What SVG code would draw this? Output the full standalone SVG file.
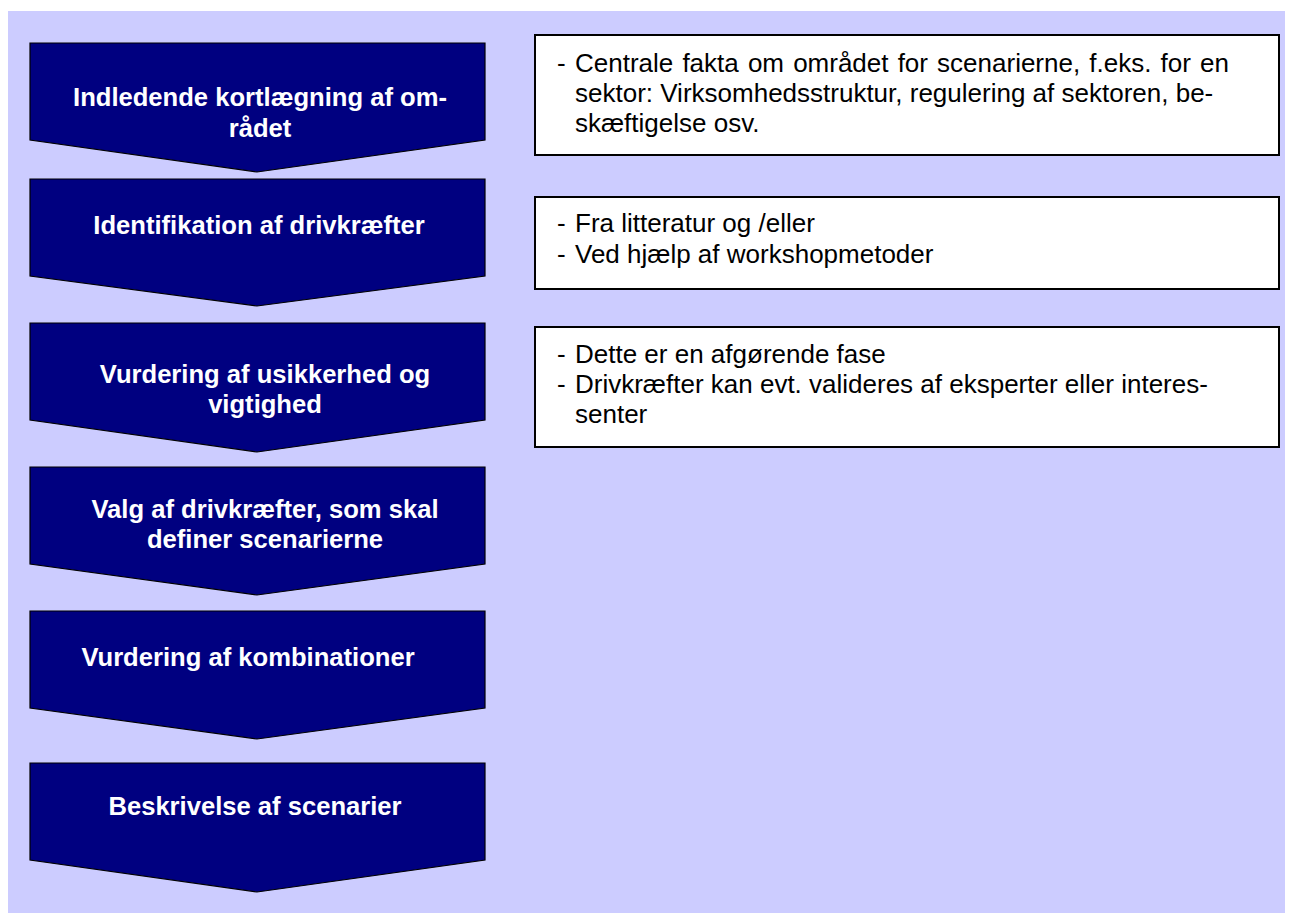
<svg xmlns="http://www.w3.org/2000/svg" width="1295" height="915" viewBox="0 0 1295 915">
<style>
.bg{fill:#CCCCFF;}
.arrow{fill:#000080;stroke:#000000;stroke-width:1.2;}
.atext{font-family:"Liberation Sans",Arial,sans-serif;font-weight:bold;font-size:25.6px;fill:#FFFFFF;text-anchor:middle;}
.box{fill:#FFFFFF;stroke:#000000;stroke-width:2;}
.btext{font-family:"Liberation Sans",Arial,sans-serif;font-size:26px;fill:#000000;}
</style>
<rect class="bg" x="8" y="11" width="1277" height="902"/>
<g id="connectors"></g>
<g id="step1">
<polygon class="arrow" points="30,43 485,43 485,140 257,172 30,140"/>
<text class="atext" x="260" y="106">Indledende kortlægning af om-</text>
<text class="atext" x="260" y="137">rådet</text>
</g>
<g id="step2">
<polygon class="arrow" points="30,179 485,179 485,276 257,306 30,276"/>
<text class="atext" x="259" y="234">Identifikation af drivkræfter</text>
</g>
<g id="step3">
<polygon class="arrow" points="30,323 485,323 485,420 257,452 30,420"/>
<text class="atext" x="265" y="383">Vurdering af usikkerhed og</text>
<text class="atext" x="265" y="413">vigtighed</text>
</g>
<g id="step4">
<polygon class="arrow" points="30,467 485,467 485,564 257,595 30,564"/>
<text class="atext" x="265" y="518">Valg af drivkræfter, som skal</text>
<text class="atext" x="265" y="548">definer scenarierne</text>
</g>
<g id="step5">
<polygon class="arrow" points="30,611 485,611 485,708 257,739 30,708"/>
<text class="atext" x="248" y="666">Vurdering af kombinationer</text>
</g>
<g id="step6">
<polygon class="arrow" points="30,763 485,763 485,860 257,892 30,860"/>
<text class="atext" x="255" y="815">Beskrivelse af scenarier</text>
</g>
<g id="note1">
<rect class="box" x="535" y="35" width="744" height="120"/>
<text class="btext" x="557" y="72">-</text>
<text class="btext" x="575" y="72" word-spacing="1.9">Centrale fakta om området for scenarierne, f.eks. for en</text>
<text class="btext" x="575" y="102">sektor: Virksomhedsstruktur, regulering af sektoren, be-</text>
<text class="btext" x="575" y="132">skæftigelse osv.</text>
</g>
<g id="note2">
<rect class="box" x="535" y="197" width="744" height="92"/>
<text class="btext" x="557" y="232">-</text>
<text class="btext" x="575" y="232">Fra litteratur og /eller</text>
<text class="btext" x="557" y="263">-</text>
<text class="btext" x="575" y="263">Ved hjælp af workshopmetoder</text>
</g>
<g id="note3">
<rect class="box" x="535" y="327" width="744" height="120"/>
<text class="btext" x="557" y="363">-</text>
<text class="btext" x="575" y="363">Dette er en afgørende fase</text>
<text class="btext" x="557" y="393">-</text>
<text class="btext" x="575" y="393">Drivkræfter kan evt. valideres af eksperter eller interes-</text>
<text class="btext" x="575" y="423">senter</text>
</g>
</svg>
